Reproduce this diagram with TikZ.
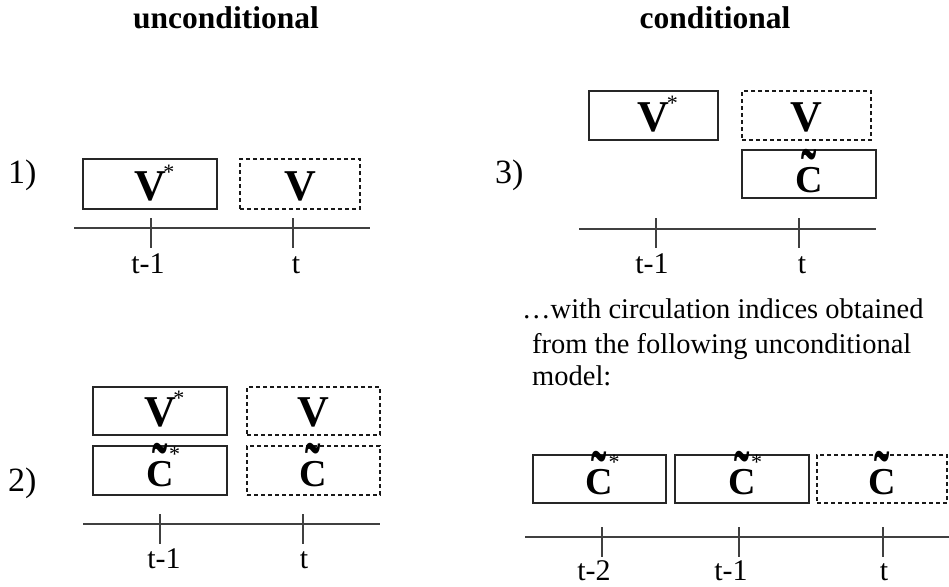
\documentclass[tikz,border=0pt]{standalone}
\usepackage{fontspec}
\setmainfont{Liberation Serif}
\usepackage{graphicx}
\newcommand{\tildeC}{\ooalign{C\cr\hidewidth\raisebox{-6.5pt}{\scalebox{1.2}[1.9]{\char"02DC}}\hidewidth\cr}}
\newcommand{\starV}{\rlap{\kern-2.5pt\raisebox{21pt}{\fontsize{22}{22}\selectfont\mdseries *}}}
\newcommand{\starC}{\rlap{\kern-4.5pt\raisebox{25pt}{\fontsize{22}{22}\selectfont\mdseries *}}}
\begin{document}
\begin{tikzpicture}[x=1pt,y=-1pt,
  boxbase/.style={rectangle, inner sep=0pt, line width=1.1pt},
  solidbox/.style={boxbase, draw=black!85},
  dashbox/.style={boxbase, draw=black!90, dash pattern=on 4pt off 3pt},
  vtext/.style={anchor=base, inner sep=0pt, font=\fontsize{44}{44}\selectfont\bfseries, yshift=9pt},
  ctext/.style={anchor=base, inner sep=0pt, font=\fontsize{38}{38}\selectfont\bfseries, yshift=9pt},
  axisline/.style={draw=black!75, line width=1.1pt},
  titletext/.style={anchor=base, inner sep=0pt, font=\fontsize{31.5}{31.5}\selectfont\bfseries},
  paneltext/.style={anchor=base west, inner sep=0pt, font=\fontsize{34}{34}\selectfont},
  ticktext/.style={anchor=base, inner sep=0pt, font=\fontsize{30}{30}\selectfont},
  bodytext/.style={anchor=base west, inner sep=0pt, font=\fontsize{28.5}{28.5}\selectfont}
]
\useasboundingbox (0,0) rectangle (949,586);

% titles
\node[titletext] (tu) at (226,29) {unconditional};
\node[titletext] (tc) at (715,29) {conditional};

% ---------- panel 1
\node[paneltext] (l1) at (8,183) {1)};
\node[solidbox, minimum width=134pt, minimum height=50pt] (p1a) at (150,184) {};
\node[dashbox, minimum width=120pt, minimum height=50pt] (p1b) at (300,184) {};
\node[vtext] (p1at) at (p1a.south) {V\starV};
\node[vtext] (p1bt) at (p1b.south) {V};
\coordinate (a1l) at (74,228);
\coordinate (a1r) at (370,228);
\draw[axisline] (a1l) -- (a1r);
\coordinate (k1a) at (151,218); \coordinate (k1b) at (151,248);
\coordinate (k1c) at (293,218); \coordinate (k1d) at (293,248);
\draw[axisline] (k1a) -- (k1b);
\draw[axisline] (k1c) -- (k1d);
\node[ticktext] (t1a) at (148,273) {t-1};
\node[ticktext] (t1b) at (296,273) {t};

% ---------- panel 2
\node[paneltext] (l2) at (8,491) {2)};
\node[solidbox, minimum width=134pt, minimum height=48pt] (p2a) at (160,411) {};
\node[dashbox, minimum width=133pt, minimum height=48pt] (p2b) at (313.5,411) {};
\node[solidbox, minimum width=134pt, minimum height=49pt] (p2c) at (160,470.5) {};
\node[dashbox, minimum width=133pt, minimum height=49pt] (p2d) at (313.5,470.5) {};
\node[vtext] (p2at) at (p2a.south) {V\starV};
\node[vtext] (p2bt) at (p2b.south) {V};
\node[ctext] (p2ct) at (p2c.south) {\tildeC\starC};
\node[ctext] (p2dt) at (p2d.south) {\tildeC};
\coordinate (a2l) at (83,524);
\coordinate (a2r) at (380,524);
\draw[axisline] (a2l) -- (a2r);
\coordinate (k2a) at (160,514); \coordinate (k2b) at (160,544);
\coordinate (k2c) at (303,514); \coordinate (k2d) at (303,544);
\draw[axisline] (k2a) -- (k2b);
\draw[axisline] (k2c) -- (k2d);
\node[ticktext] (t2a) at (164,568) {t-1};
\node[ticktext] (t2b) at (304,568) {t};

% ---------- panel 3
\node[paneltext] (l3) at (495,183) {3)};
\node[solidbox, minimum width=129pt, minimum height=49pt] (p3a) at (653.5,115.5) {};
\node[dashbox, minimum width=129pt, minimum height=49pt] (p3b) at (806.5,115.5) {};
\node[solidbox, minimum width=134pt, minimum height=48pt] (p3c) at (809,174) {};
\node[vtext] (p3at) at (p3a.south) {V\starV};
\node[vtext] (p3bt) at (p3b.south) {V};
\node[ctext, yshift=-3pt] (p3ct) at (p3c.south) {\tildeC};
\coordinate (a3l) at (579,229);
\coordinate (a3r) at (876,229);
\draw[axisline] (a3l) -- (a3r);
\coordinate (k3a) at (656,218); \coordinate (k3b) at (656,248);
\coordinate (k3c) at (799,218); \coordinate (k3d) at (799,248);
\draw[axisline] (k3a) -- (k3b);
\draw[axisline] (k3c) -- (k3d);
\node[ticktext] (t3a) at (652,273) {t-1};
\node[ticktext] (t3b) at (802,273) {t};

% ---------- explanatory text
\node[bodytext] (x1) at (522,318) {…with circulation indices obtained};
\node[bodytext] (x2) at (532,353) {from the following unconditional};
\node[bodytext] (x3) at (532,385) {model:};

% ---------- panel 4
\node[solidbox, minimum width=133pt, minimum height=48pt] (p4a) at (599.5,479) {};
\node[solidbox, minimum width=134pt, minimum height=48pt] (p4b) at (742,479) {};
\node[dashbox, minimum width=130pt, minimum height=48pt] (p4c) at (882,479) {};
\node[ctext] (p4at) at (p4a.south) {\tildeC\starC};
\node[ctext] (p4bt) at (p4b.south) {\tildeC\starC};
\node[ctext] (p4ct) at (p4c.south) {\tildeC};
\coordinate (a4l) at (525,537);
\coordinate (a4r) at (949,537);
\draw[axisline] (a4l) -- (a4r);
\coordinate (k4a) at (602,527); \coordinate (k4b) at (602,557);
\coordinate (k4c) at (739,527); \coordinate (k4d) at (739,557);
\coordinate (k4e) at (883,527); \coordinate (k4f) at (883,557);
\draw[axisline] (k4a) -- (k4b);
\draw[axisline] (k4c) -- (k4d);
\draw[axisline] (k4e) -- (k4f);
\node[ticktext] (t4a) at (594,580) {t-2};
\node[ticktext] (t4b) at (731,580) {t-1};
\node[ticktext] (t4c) at (884,580) {t};
\end{tikzpicture}
\end{document}
